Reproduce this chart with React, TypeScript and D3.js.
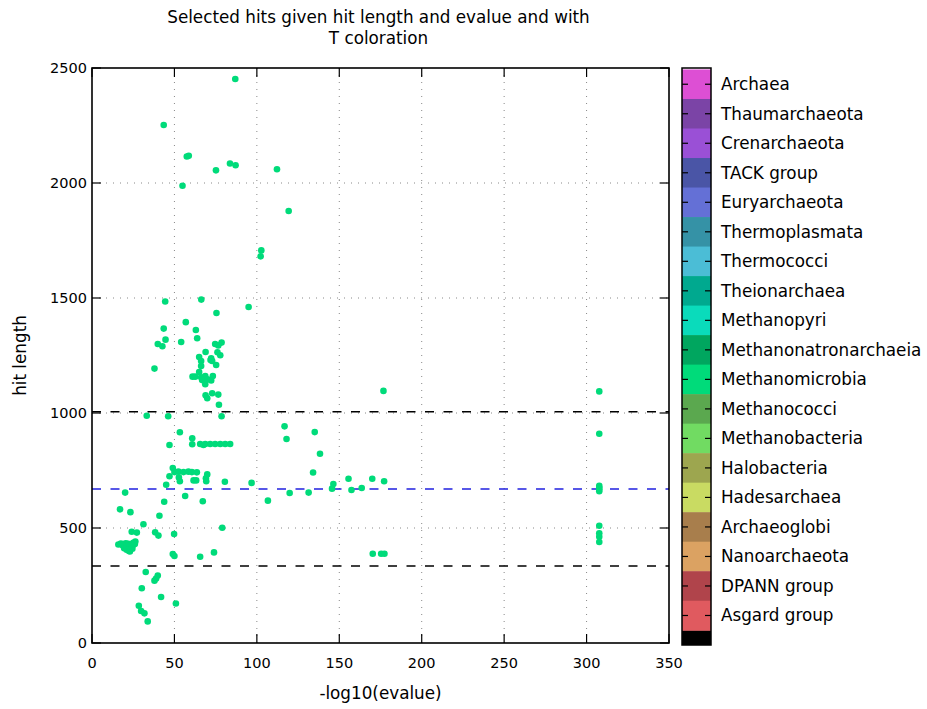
import React from "react";
import * as d3 from "d3";

const titleLines = ["Selected hits given hit length and evalue and with", "T coloration"];
const xLabel = "-log10(evalue)";
const yLabel = "hit length";
const xTicks = [0, 50, 100, 150, 200, 250, 300, 350];
const yTicks = [0, 500, 1000, 1500, 2000, 2500];

// colorbar categories, top to bottom
const cbLabels = [
  "Archaea", "Thaumarchaeota", "Crenarchaeota", "TACK group", "Euryarchaeota",
  "Thermoplasmata", "Thermococci", "Theionarchaea", "Methanopyri", "Methanonatronarchaeia",
  "Methanomicrobia", "Methanococci", "Methanobacteria", "Halobacteria", "Hadesarchaea",
  "Archaeoglobi", "Nanoarchaeota", "DPANN group", "Asgard group",
];
const cbColors = [
  "#dd4fd4", "#7b44a6", "#9a50d6", "#4a55a6", "#6470d6",
  "#3592a6", "#4bbdd6", "#00a98f", "#0adbbb", "#00a65f",
  "#00db7a", "#5ba84f", "#71db62", "#9da64f", "#c9db62",
  "#a87e4c", "#dba262", "#b0444b", "#e05a5f",
];

// threshold lines
const meanLength = 670;
const lowLength = 335;
const highLength = 1005;

// hits (-log10 evalue, hit length)
const hitEvalue = [
  43.5, 57.5, 58.7, 54.9, 75.2, 83.7, 87.1, 112.2, 119.3, 102.7, 102.3, 86.9,
  44.4, 66.3, 95.0, 75.5, 56.9, 43.5, 63.0, 44.6, 63.8, 54.1, 39.9, 42.7, 74.7, 76.6, 78.6,
  77.8, 76.1, 68.9, 65.0, 66.2, 72.3, 71.9, 72.9, 75.3, 66.2, 37.9, 65.0, 61.0, 62.6, 66.2,
  68.7, 73.3, 66.8, 70.1, 72.3, 68.7, 68.9, 72.9, 69.9, 76.6, 77.0, 33.2, 46.2, 78.6,
  53.3, 60.8, 47.0, 60.8, 65.6, 67.6, 68.7, 71.7, 74.7, 77.8, 80.8, 83.8,
  49.0, 50.0, 52.4, 55.5, 58.5, 60.6, 63.6, 69.9, 47.0, 52.7, 53.3, 61.6, 63.2, 69.1, 69.3,
  80.6, 45.0, 56.5, 67.2,
  116.8, 118.0, 135.1, 138.3, 134.1, 96.8, 106.7, 119.9, 131.4, 145.6, 146.4, 155.6, 157.4,
  163.6, 170.0, 177.2, 170.3, 175.4, 177.4, 176.8,
  307.7, 307.7, 307.7, 307.7, 307.7, 307.7, 307.7, 307.7, 307.7, 307.7,
  20.1, 43.8, 17.0, 23.3, 40.9, 31.2, 24.1, 27.2, 38.3, 40.3, 49.8,
  16.0, 17.5, 19.0, 20.5, 22.0, 23.5, 25.0, 26.3, 26.0, 24.5, 22.5, 20.5, 18.5, 21.0, 22.5, 24.5, 19.5, 23.0,
  49.0, 50.0, 65.6, 74.0, 79.0,
  32.6, 39.9, 38.9, 37.9, 30.2, 41.9, 50.9, 28.4, 29.8, 31.8, 33.8,
];
const hitLength = [
  2252, 2115, 2118, 1988, 2055, 2085, 2077, 2060, 1878, 1707, 1681, 2452,
  1485, 1493, 1461, 1435, 1395, 1367, 1361, 1319, 1325, 1309, 1300, 1290, 1300, 1294, 1306,
  1251, 1264, 1265, 1243, 1226, 1238, 1230, 1226, 1209, 1204, 1193, 1178, 1158, 1158, 1155,
  1161, 1161, 1143, 1146, 1141, 1125, 1077, 1086, 1064, 1080, 1036, 988, 986, 986,
  916, 890, 861, 864, 865, 861, 865, 865, 865, 865, 865, 865,
  761, 743, 745, 743, 745, 743, 742, 733, 725, 720, 703, 707, 707, 716, 703,
  701, 688, 639, 616,
  942, 887, 917, 823, 741, 696, 619, 652, 654, 671, 691, 714, 665,
  674, 714, 703, 388, 388, 388, 1096,
  1094, 910, 683, 675, 668, 660, 510, 477, 462, 439,
  654, 614, 581, 569, 553, 516, 484, 480, 481, 467, 474,
  428, 432, 430, 434, 431, 429, 436, 441, 430, 422, 418, 424, 425, 405, 400, 410, 412, 398,
  387, 378, 375, 394, 501,
  309, 293, 280, 271, 238, 200, 172, 162, 139, 129, 94,
];

const W = 927;
const H = 709;
const FONT = "'DejaVu Sans', sans-serif";

export default function App() {
  const left = 92, right = 669, top = 68, bottom = 643;
  const x = d3.scaleLinear().domain([0, 350]).range([left, right]);
  const y = d3.scaleLinear().domain([0, 2500]).range([bottom, top]);

  const cbLeft = 682, cbRight = 711, cbTop = 68, cbBottom = 645;
  const cb = d3.scaleLinear().domain([0, 19.55]).range([cbBottom, cbTop]);
  const nCat = cbLabels.length;

  const points = hitEvalue.map((v, i) => ({ v, l: hitLength[i] }));
  const tickLen = 9;

  return (
    <svg width={W} height={H} style={{ position: "absolute", left: 0, top: 0, background: "#fff" }}
      fontFamily={FONT}>
      <rect x={0} y={0} width={W} height={H} fill="#fff" />
      {/* title */}
      {titleLines.map((t, i) => (
        <text key={t} x={(left + right) / 2 - 2} y={23 + i * 20.5} textAnchor="middle" fontSize={16.8} fill="#000">{t}</text>
      ))}

      {/* grid */}
      {xTicks.slice(1, -1).map((t) => (
        <line key={"gx" + t} x1={x(t)} x2={x(t)} y1={top} y2={bottom} stroke="#888" strokeWidth={1} strokeDasharray="1 6" />
      ))}
      {yTicks.slice(1, -1).map((t) => (
        <line key={"gy" + t} x1={left} x2={right} y1={y(t)} y2={y(t)} stroke="#888" strokeWidth={1} strokeDasharray="1 6" />
      ))}

      {/* threshold lines */}
      <line x1={left} x2={right} y1={y(highLength)} y2={y(highLength)} stroke="#000" strokeWidth={1.5} strokeDasharray="9 9.5" />
      <line x1={left} x2={right} y1={y(lowLength)} y2={y(lowLength)} stroke="#000" strokeWidth={1.5} strokeDasharray="9 9.5" />
      <line x1={left} x2={right} y1={y(meanLength)} y2={y(meanLength)} stroke="#2020e0" strokeWidth={1.5} strokeDasharray="9 9.5" />

      {/* points */}
      {points.map((p, i) => (
        <circle key={i} cx={x(p.v)} cy={y(p.l)} r={3.3} fill={cbColors[10]} />
      ))}

      {/* ticks */}
      {xTicks.map((t) => (
        <g key={"tx" + t}>
          <line x1={x(t)} x2={x(t)} y1={bottom} y2={bottom - tickLen} stroke="#000" strokeWidth={1.2} />
          <line x1={x(t)} x2={x(t)} y1={top} y2={top + tickLen} stroke="#000" strokeWidth={1.2} />
          <text x={x(t)} y={bottom + 25} textAnchor="middle" fontSize={14.5} fill="#000">{t}</text>
        </g>
      ))}
      {yTicks.map((t) => (
        <g key={"ty" + t}>
          <line x1={left} x2={left + tickLen} y1={y(t)} y2={y(t)} stroke="#000" strokeWidth={1.2} />
          <line x1={right} x2={right - tickLen} y1={y(t)} y2={y(t)} stroke="#000" strokeWidth={1.2} />
          <text x={left - 5} y={y(t)} dy="0.35em" textAnchor="end" fontSize={14.5} fill="#000">{t}</text>
        </g>
      ))}

      {/* frame */}
      <rect x={left} y={top} width={right - left} height={bottom - top} fill="none" stroke="#000" strokeWidth={1.6} />

      {/* axis labels */}
      <text x={(left + right) / 2} y={699} textAnchor="middle" fontSize={16.8} fill="#000">{xLabel}</text>
      <text transform={`translate(26,${(top + bottom) / 2}) rotate(-90)`} textAnchor="middle" fontSize={16.8} fill="#000">{yLabel}</text>

      {/* colorbar */}
      <rect x={cbLeft} y={cb(0.5)} width={cbRight - cbLeft} height={cb(0) - cb(0.5)} fill="#000" />
      {cbLabels.map((lab, i) => {
        const k = nCat - i; // value position
        const y0 = cb(k - 0.5);
        const y1 = cb(Math.min(k + 0.5, 19.55));
        return (
          <g key={lab}>
            <rect x={cbLeft} y={y1} width={cbRight - cbLeft} height={y0 - y1 + 0.5} fill={cbColors[i]} />
          </g>
        );
      })}
      {cbLabels.map((lab, i) => {
        const k = nCat - i;
        const yy = cb(k);
        return (
          <g key={"l" + lab}>
            <line x1={cbLeft} x2={cbLeft + 6} y1={yy} y2={yy} stroke="#000" strokeWidth={1.2} />
            <line x1={cbRight} x2={cbRight - 6} y1={yy} y2={yy} stroke="#000" strokeWidth={1.2} />
            <text x={721} y={yy} dy="0.35em" fontSize={16.8} fill="#000">{lab}</text>
          </g>
        );
      })}
      <rect x={cbLeft} y={cbTop} width={cbRight - cbLeft} height={cbBottom - cbTop} fill="none" stroke="#000" strokeWidth={1.5} />
    </svg>
  );
}
